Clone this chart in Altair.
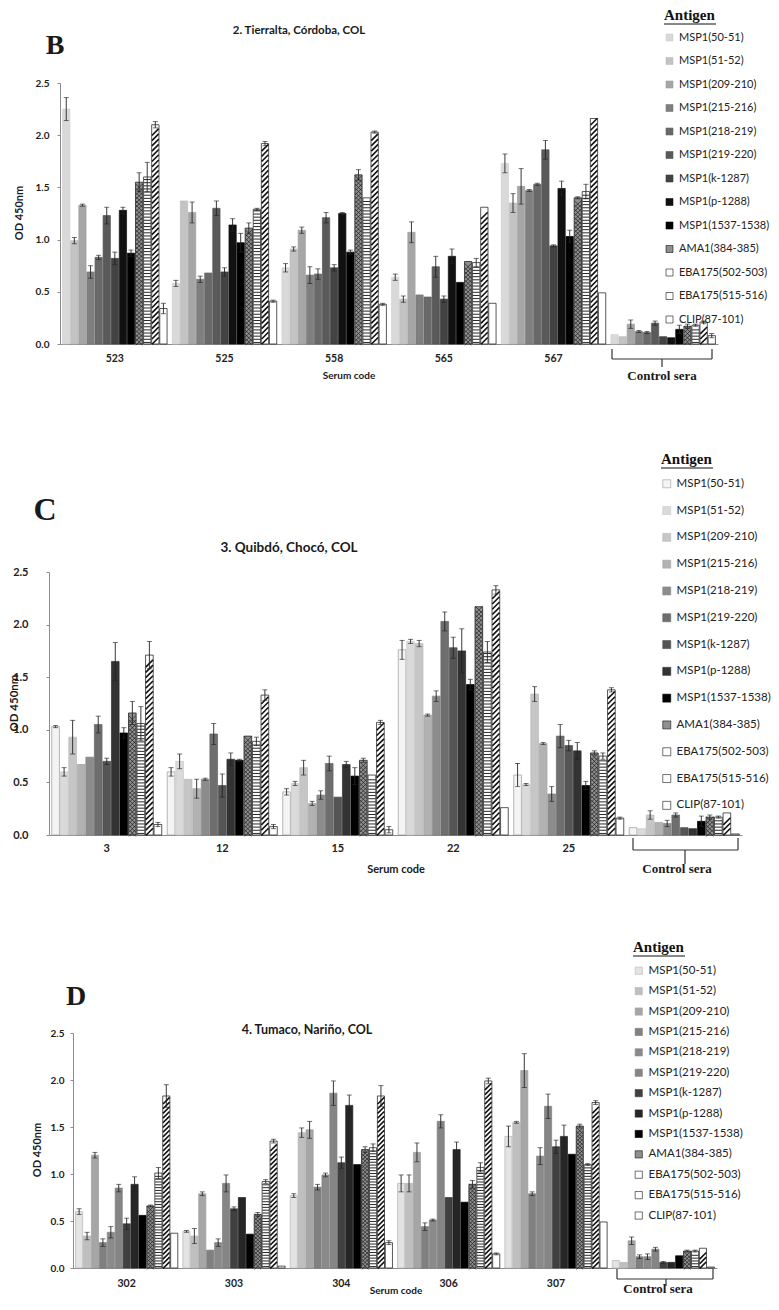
import altair as alt
import pandas as pd

antigens = ["MSP1(50-51)", "MSP1(51-52)", "MSP1(209-210)", "MSP1(215-216)",
            "MSP1(218-219)", "MSP1(219-220)", "MSP1(k-1287)", "MSP1(p-1288)",
            "MSP1(1537-1538)", "AMA1(384-385)", "EBA175(502-503)",
            "EBA175(515-516)", "CLIP(87-101)"]

# ---------------- Panel B: Tierralta ----------------
b_groups = ["523", "525", "558", "565", "567", "Control sera"]
b_523 = [2.25, 0.99, 1.33, 0.69, 0.83, 1.23, 0.82, 1.28, 0.87, 1.55, 1.60, 2.10, 0.34]
b_523_err = [0.11, 0.03, 0.01, 0.06, 0.02, 0.08, 0.06, 0.03, 0.03, 0.09, 0.14, 0.03, 0.05]
b_525 = [0.58, 1.37, 1.26, 0.62, 0.68, 1.30, 0.69, 1.14, 0.97, 1.11, 1.29, 1.92, 0.41]
b_525_err = [0.03, 0.0, 0.10, 0.03, 0.0, 0.07, 0.04, 0.06, 0.09, 0.05, 0.01, 0.02, 0.01]
b_558 = [0.73, 0.91, 1.09, 0.66, 0.67, 1.21, 0.73, 1.25, 0.88, 1.62, 1.40, 2.03, 0.38]
b_558_err = [0.04, 0.02, 0.03, 0.08, 0.05, 0.05, 0.03, 0.01, 0.02, 0.05, 0.0, 0.01, 0.01]
b_565 = [0.64, 0.43, 1.07, 0.47, 0.45, 0.74, 0.43, 0.84, 0.59, 0.79, 0.78, 1.31, 0.39]
b_565_err = [0.03, 0.03, 0.10, 0.0, 0.0, 0.10, 0.03, 0.07, 0.0, 0.0, 0.04, 0.0, 0.0]
b_567 = [1.73, 1.35, 1.51, 1.47, 1.53, 1.86, 0.94, 1.49, 1.03, 1.40, 1.46, 2.16, 0.49]
b_567_err = [0.09, 0.09, 0.17, 0.01, 0.01, 0.09, 0.01, 0.07, 0.06, 0.01, 0.07, 0.0, 0.0]
b_ctrl = [0.09, 0.07, 0.19, 0.12, 0.11, 0.20, 0.07, 0.06, 0.14, 0.17, 0.18, 0.21, 0.08]
b_ctrl_err = [0.0, 0.0, 0.04, 0.01, 0.01, 0.02, 0.0, 0.0, 0.04, 0.02, 0.01, 0.01, 0.02]

# ---------------- Panel C: Quibdó ----------------
c_groups = ["3", "12", "15", "22", "25", "Control sera"]
c_3 = [1.03, 0.60, 0.93, 0.67, 0.74, 1.05, 0.70, 1.65, 0.97, 1.16, 1.06, 1.71, 0.10]
c_3_err = [0.01, 0.04, 0.16, 0.0, 0.0, 0.08, 0.03, 0.18, 0.05, 0.11, 0.16, 0.13, 0.02]
c_12 = [0.60, 0.70, 0.53, 0.44, 0.53, 0.96, 0.47, 0.72, 0.71, 0.94, 0.89, 1.33, 0.08]
c_12_err = [0.04, 0.07, 0.0, 0.09, 0.01, 0.10, 0.11, 0.06, 0.01, 0.0, 0.04, 0.05, 0.02]
c_15 = [0.41, 0.49, 0.64, 0.30, 0.38, 0.68, 0.36, 0.67, 0.56, 0.71, 0.57, 1.07, 0.05]
c_15_err = [0.03, 0.02, 0.07, 0.02, 0.04, 0.07, 0.0, 0.03, 0.08, 0.02, 0.0, 0.02, 0.03]
c_22 = [1.76, 1.84, 1.82, 1.14, 1.32, 2.03, 1.78, 1.75, 1.43, 2.17, 1.74, 2.33, 0.26]
c_22_err = [0.09, 0.02, 0.03, 0.01, 0.05, 0.09, 0.10, 0.21, 0.05, 0.0, 0.10, 0.04, 0.0]
c_25 = [0.57, 0.48, 1.34, 0.87, 0.39, 0.94, 0.85, 0.80, 0.47, 0.78, 0.75, 1.38, 0.16]
c_25_err = [0.11, 0.01, 0.07, 0.01, 0.07, 0.11, 0.05, 0.08, 0.04, 0.02, 0.03, 0.02, 0.01]
c_ctrl = [0.07, 0.06, 0.19, 0.12, 0.11, 0.19, 0.07, 0.06, 0.13, 0.17, 0.17, 0.21, 0.01]
c_ctrl_err = [0.0, 0.0, 0.04, 0.0, 0.03, 0.02, 0.0, 0.0, 0.05, 0.02, 0.01, 0.0, 0.0]

# ---------------- Panel D: Tumaco ----------------
d_groups = ["302", "303", "304", "306", "307", "Control sera"]
d_302 = [0.60, 0.34, 1.20, 0.27, 0.38, 0.85, 0.47, 0.89, 0.56, 0.66, 1.01, 1.83, 0.37]
d_302_err = [0.03, 0.04, 0.03, 0.04, 0.06, 0.04, 0.06, 0.08, 0.0, 0.01, 0.06, 0.12, 0.0]
d_303 = [0.39, 0.34, 0.79, 0.19, 0.27, 0.90, 0.63, 0.75, 0.36, 0.57, 0.92, 1.35, 0.02]
d_303_err = [0.01, 0.08, 0.02, 0.0, 0.04, 0.09, 0.02, 0.0, 0.0, 0.02, 0.02, 0.02, 0.0]
d_304 = [0.77, 1.44, 1.47, 0.86, 0.99, 1.86, 1.12, 1.73, 1.10, 1.26, 1.28, 1.83, 0.27]
d_304_err = [0.02, 0.05, 0.09, 0.03, 0.02, 0.13, 0.06, 0.11, 0.0, 0.03, 0.04, 0.11, 0.02]
d_306 = [0.90, 0.90, 1.23, 0.44, 0.51, 1.56, 0.75, 1.26, 0.70, 0.89, 1.07, 1.99, 0.15]
d_306_err = [0.09, 0.09, 0.10, 0.04, 0.01, 0.07, 0.0, 0.08, 0.0, 0.04, 0.05, 0.03, 0.01]
d_307 = [1.40, 1.55, 2.10, 0.79, 1.19, 1.72, 1.29, 1.40, 1.21, 1.51, 1.10, 1.76, 0.49]
d_307_err = [0.11, 0.01, 0.18, 0.02, 0.09, 0.13, 0.07, 0.12, 0.0, 0.02, 0.01, 0.02, 0.0]
d_ctrl = [0.08, 0.06, 0.29, 0.12, 0.12, 0.20, 0.06, 0.06, 0.13, 0.18, 0.18, 0.21, 0.01]
d_ctrl_err = [0.0, 0.0, 0.04, 0.02, 0.03, 0.02, 0.01, 0.0, 0.0, 0.01, 0.01, 0.0, 0.0]

# ---------------- Colours (styles) ----------------
b_fills = ["#d9d9d9", "#c3c3c3", "#a6a6a6", "#7f7f7f", "#696969", "#5a5a5a", "#434343",
           "#111111", "#000000", "#8f8f8f", "#ffffff", "#ffffff", "#ffffff"]
b_strokes = ["#cfcfcf", "#bcbcbc", "#a0a0a0", "#7a7a7a", "#646464", "#555555", "#3e3e3e",
             "#111111", "#000000", "#111111", "#111111", "#111111", "#111111"]
c_fills = ["#f4f4f4", "#dadada", "#c6c6c6", "#b2b2b2", "#8c8c8c", "#6e6e6e", "#555555",
           "#333333", "#000000", "#8f8f8f", "#ffffff", "#ffffff", "#ffffff"]
c_strokes = ["#9a9a9a", "#c8c8c8", "#b8b8b8", "#a4a4a4", "#858585", "#666666", "#4e4e4e",
             "#2e2e2e", "#000000", "#111111", "#111111", "#111111", "#111111"]
d_fills = ["#e3e3e3", "#bfbfbf", "#a6a6a6", "#808080", "#8a8a8a", "#858585", "#404040",
           "#262626", "#000000", "#8f8f8f", "#ffffff", "#ffffff", "#ffffff"]
d_strokes = ["#b5b5b5", "#b5b5b5", "#9e9e9e", "#7a7a7a", "#848484", "#7f7f7f", "#3b3b3b",
             "#222222", "#000000", "#111111", "#111111", "#111111", "#111111"]

# page offsets of the drawing and its size
LEFT, TOP = 8, 8
VIEW_W, VIEW_H = 763, 1290
one = pd.DataFrame({"k": [0]})


def vx(x):
    return x - LEFT


def vy(y):
    return y - TOP


def build_df(groups, vals, errs):
    rows = []
    for g, vs, es in zip(groups, vals, errs):
        for a, v, e in zip(antigens, vs, es):
            rows.append({"group": g, "antigen": a, "value": v, "err": e})
    return pd.DataFrame(rows)


def seg(x1, x2, y1, y2, color="#333333", sw=1.2):
    return alt.Chart(one).mark_rule(color=color, strokeWidth=sw).encode(
        x=alt.value(vx(x1)), x2=alt.value(vx(x2)), y=alt.value(vy(y1)), y2=alt.value(vy(y2)))


def label(text, xy, font, size, weight="bold", color="#1a1a1a", angle=0):
    return alt.Chart(pd.DataFrame({"t": [text]})).mark_text(
        font=font, fontSize=size, fontWeight=weight, align="center",
        baseline="middle", color=color, angle=angle).encode(
        x=alt.value(vx(xy[0])), y=alt.value(vy(xy[1])), text="t:N")


def panel(df, groups, fills, strokes, c):
    x0, x1 = vx(c["xr"][0]), vx(c["xr"][1])
    yb, yt = vy(c["yr"][0]), vy(c["yr"][1])
    xs = alt.Scale(domain=groups, range=[x0, x1], paddingInner=0.04, paddingOuter=0.02)
    xos = alt.Scale(domain=antigens, paddingInner=0.1, paddingOuter=0.05)
    ys = alt.Scale(domain=[0, 2.5], range=[yb, yt], nice=False, zero=True)
    x_ax = alt.Axis(orient="bottom", offset=-(VIEW_H - yb), labelAngle=0, ticks=False,
                    domainColor="#8c8c8c",
                    labelFont="Lato", labelFontWeight="bold", labelFontSize=c["xlab_fs"],
                    labelColor="#222222", labelPadding=c["xlab_pad"],
                    labelExpr="datum.value == 'Control sera' ? '' : datum.label",
                    title=None)
    y_ax = alt.Axis(orient="left", offset=-x0, values=[0, 0.5, 1.0, 1.5, 2.0, 2.5],
                    format=".1f", grid=False,
                    domainColor="#8c8c8c", tickColor="#8c8c8c", tickSize=3,
                    labelFont="Lato", labelFontWeight="bold", labelFontSize=c["ylab_fs"],
                    labelColor="#222222", labelPadding=c["ylab_pad"], title=None)
    X = alt.X("group:N", scale=xs, axis=x_ax)
    XO = alt.XOffset("antigen:N", scale=xos)

    def Y(field):
        return alt.Y(field, scale=ys, axis=y_ax)

    leg = alt.Legend(orient="none", legendX=vx(c["lx"]), legendY=max(0, vy(c["ly"])),
                     direction="vertical",
                     title="Antigen", titleFont="Liberation Serif", titleFontWeight="bold",
                     titleFontSize=15, titleColor="#111111", titlePadding=c["ltp"],
                     labelFont="Lato", labelFontSize=c["lfs"], labelColor="#222222",
                     labelOffset=4, symbolType="square", symbolSize=c["lsym"],
                     symbolStrokeColor="#555555", symbolStrokeWidth=0.6,
                     rowPadding=c["lrp"], labelLimit=200)

    bars = alt.Chart(df).mark_bar(strokeWidth=0.7).encode(
        x=X, xOffset=XO, y=Y("value:Q"),
        color=alt.Color("antigen:N", scale=alt.Scale(domain=antigens, range=fills), legend=leg),
        stroke=alt.Stroke("antigen:N", scale=alt.Scale(domain=antigens, range=strokes), legend=None),
    )

    def hatch(ant, shape, start, step, sw, col):
        return alt.Chart(df).transform_filter(alt.datum.antigen == ant).transform_calculate(
            hy=f"sequence({start}, datum.value - {start}, {step})"
        ).transform_flatten(["hy"]).mark_point(
            shape=shape, size=c["hsize"], filled=False, strokeWidth=sw, color=col, opacity=1
        ).encode(x=X, xOffset=XO, y=Y("hy:Q"))

    h_ama = hatch("AMA1(384-385)", "M -1 1 L 1 -1 M -1 -1 L 1 1", 0.02, 0.04, 0.7, "#1a1a1a")
    h_502 = hatch("EBA175(502-503)", "M -1 0 L 1 0", 0.015, 0.03, 0.9, "#111111")
    h_515 = hatch("EBA175(515-516)", "M -1 1 L 1 -1", 0.03, 0.05, 1.6, "#111111")

    eb = alt.Chart(df).transform_filter("datum.err > 0").transform_calculate(
        lo="datum.value - datum.err", hi="datum.value + datum.err")
    e_rule = eb.mark_rule(color="#222222", strokeWidth=0.9).encode(
        x=X, xOffset=XO, y=Y("lo:Q"), y2="hi:Q")
    e_hi = eb.mark_tick(color="#222222", thickness=0.9, size=5, orient="horizontal").encode(
        x=X, xOffset=XO, y=Y("hi:Q"))
    e_lo = eb.mark_tick(color="#222222", thickness=0.9, size=5, orient="horizontal").encode(
        x=X, xOffset=XO, y=Y("lo:Q"))

    bl, br, bc = c["brace_x"]
    bt, bh, bd = c["brace_y"]
    brace = [seg(bl, bl, bt, bh), seg(br, br, bt, bh), seg(bl, br, bh, bh), seg(bc, bc, bh, bd)]

    texts = [
        label(c["letter"], c["letter_xy"], "Liberation Serif", c["letter_fs"]),
        label(c["title"], c["title_xy"], "Lato", c["title_fs"]),
        label("Control sera", c["cs_xy"], "Liberation Serif", 13),
        label("Serum code", c["xt_xy"], "Lato", c["xt_fs"]),
        label("OD 450nm", c["yt_xy"], "Lato", c["yt_fs"], angle=270),
    ]
    ul = seg(c["lx"], c["lx"] + 52, c["ul_y"], c["ul_y"], color="#111111", sw=1.0)

    return alt.layer(bars, h_ama, h_502, h_515, e_rule, e_hi, e_lo, *brace, *texts, ul)


df_b = build_df(b_groups, [b_523, b_525, b_558, b_565, b_567, b_ctrl],
                [b_523_err, b_525_err, b_558_err, b_565_err, b_567_err, b_ctrl_err])
df_c = build_df(c_groups, [c_3, c_12, c_15, c_22, c_25, c_ctrl],
                [c_3_err, c_12_err, c_15_err, c_22_err, c_25_err, c_ctrl_err])
df_d = build_df(d_groups, [d_302, d_303, d_304, d_306, d_307, d_ctrl],
                [d_302_err, d_303_err, d_304_err, d_306_err, d_307_err, d_ctrl_err])

# layout settings, in page pixels
cfg_b = dict(xr=(60, 718), yr=(344, 83), xlab_fs=10.5, xlab_pad=9, ylab_fs=10, ylab_pad=8,
             xt_fs=10, xt_xy=(349, 376), yt_fs=11, yt_xy=(20, 213),
             lx=664, ly=8, ltp=9, lfs=11, lsym=49, lrp=11.5, ul_y=24, hsize=46,
             brace_x=(612, 712, 662), brace_y=(349, 359, 367),
             letter="B", letter_xy=(55, 46), letter_fs=28,
             title="2. Tierralta, Córdoba, COL", title_xy=(299, 31), title_fs=11.5,
             cs_xy=(662, 376))
cfg_c = dict(xr=(49, 742), yr=(835, 572), xlab_fs=11, xlab_pad=7, ylab_fs=11, ylab_pad=18,
             xt_fs=11, xt_xy=(396, 870), yt_fs=11.5, yt_xy=(15, 703),
             lx=661, ly=452, ltp=11, lfs=11.5, lsym=64, lrp=13.8, ul_y=468, hsize=52,
             brace_x=(633, 738, 685), brace_y=(838, 850, 864),
             letter="C", letter_xy=(45, 510), letter_fs=32,
             title="3. Quibdó, Chocó, COL", title_xy=(289, 548), title_fs=13.5,
             cs_xy=(677, 869))
cfg_d = dict(xr=(73, 717), yr=(1268, 1033), xlab_fs=10.5, xlab_pad=10, ylab_fs=10, ylab_pad=6,
             xt_fs=10, xt_xy=(396, 1291), yt_fs=11, yt_xy=(38, 1150),
             lx=633, ly=940, ltp=10, lfs=11.5, lsym=52, lrp=7.4, ul_y=956, hsize=44,
             brace_x=(617, 713, 666), brace_y=(1269, 1279, 1286),
             letter="D", letter_xy=(76, 997), letter_fs=28,
             title="4. Tumaco, Nariño, COL", title_xy=(307, 1030), title_fs=12.5,
             cs_xy=(658, 1289))

chart = alt.layer(
    panel(df_b, b_groups, b_fills, b_strokes, cfg_b),
    panel(df_c, c_groups, c_fills, c_strokes, cfg_c),
    panel(df_d, d_groups, d_fills, d_strokes, cfg_d),
).resolve_scale(
    x="independent", y="independent", xOffset="independent",
    color="independent", stroke="independent",
).properties(
    width=VIEW_W, height=VIEW_H, padding=0, background="white",
    autosize=alt.AutoSizeParams(type="none"),
).configure_view(stroke=None)

chart.save("out.html", embed_options={"renderer": "svg", "actions": False})
